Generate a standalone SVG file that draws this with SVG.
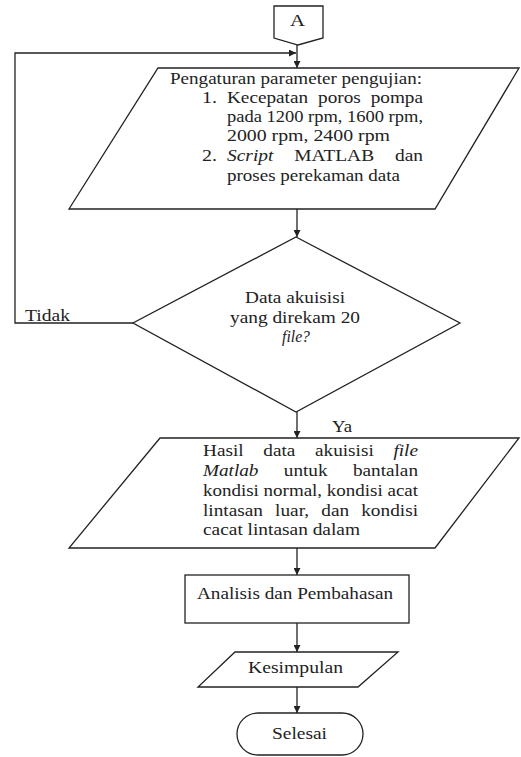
<svg xmlns="http://www.w3.org/2000/svg" width="521" height="757" viewBox="0 0 521 757">
<style>
.s{fill:#fff;stroke:#222;stroke-width:1.3}
.c{fill:none;stroke:#222;stroke-width:1.3}
text{font-family:"Liberation Serif","Times New Roman",serif;font-size:17px;fill:#222}
.i{font-style:italic}
</style>
<defs>
<marker id="ah" viewBox="0 0 10 10" refX="10" refY="5" markerWidth="7" markerHeight="7" markerUnits="userSpaceOnUse" orient="auto">
<path d="M0,0 L10,5 L0,10 z" fill="#222"/>
</marker>
</defs>
<rect width="521" height="757" fill="#fff"/>
<g id="connectors">
<polyline class="c" points="133,323 15,323 15,53 296,53" marker-end="url(#ah)"/>
<line class="c" x1="297" y1="45" x2="297" y2="68" marker-end="url(#ah)"/>
<line class="c" x1="297" y1="209" x2="297" y2="237" marker-end="url(#ah)"/>
<line class="c" x1="297" y1="412" x2="297" y2="438" marker-end="url(#ah)"/>
<line class="c" x1="297" y1="548" x2="297" y2="575" marker-end="url(#ah)"/>
<line class="c" x1="297" y1="623" x2="297" y2="652" marker-end="url(#ah)"/>
<line class="c" x1="297" y1="687" x2="297" y2="713" marker-end="url(#ah)"/>
<text x="25" y="321" textLength="45" lengthAdjust="spacingAndGlyphs">Tidak</text>
<text x="332" y="432" textLength="20" lengthAdjust="spacingAndGlyphs">Ya</text>
</g>
<g id="nodeA">
<polygon class="s" points="274,6 323,6 323,38 298,45 274,38"/>
<text x="290" y="26" textLength="15" lengthAdjust="spacingAndGlyphs">A</text>
</g>
<g id="node-pengaturan">
<polygon class="s" points="158,68 519,68 435,209 69,209"/>
<text x="170" y="84" textLength="252" lengthAdjust="spacingAndGlyphs">Pengaturan parameter pengujian:</text>
<text x="202" y="103" textLength="15" lengthAdjust="spacingAndGlyphs">1.</text>
<text x="227" y="103" word-spacing="4.6" textLength="196" lengthAdjust="spacingAndGlyphs">Kecepatan poros pompa</text>
<text x="227" y="122" textLength="196" lengthAdjust="spacingAndGlyphs">pada 1200 rpm, 1600 rpm,</text>
<text x="227" y="141" textLength="163" lengthAdjust="spacingAndGlyphs">2000 rpm, 2400 rpm</text>
<text x="202" y="161" textLength="15" lengthAdjust="spacingAndGlyphs">2.</text>
<text x="227" y="161" word-spacing="14" textLength="196" lengthAdjust="spacingAndGlyphs"><tspan class="i">Script</tspan> MATLAB dan</text>
<text x="227" y="181" textLength="173" lengthAdjust="spacingAndGlyphs">proses perekaman data</text>
</g>
<g id="node-decision">
<polygon class="s" points="296,237 460,323 296,412 133,323"/>
<text x="245" y="303" textLength="100" lengthAdjust="spacingAndGlyphs">Data akuisisi</text>
<text x="230" y="323" textLength="130" lengthAdjust="spacingAndGlyphs">yang direkam 20</text>
<text x="282" y="342" class="i" textLength="28" lengthAdjust="spacingAndGlyphs">file?</text>
</g>
<g id="node-hasil">
<polygon class="s" points="160,438 519,438 435,548 69,548"/>
<text x="203" y="456" word-spacing="13.2" textLength="215" lengthAdjust="spacingAndGlyphs">Hasil data akuisisi <tspan class="i">file</tspan></text>
<text x="203" y="476" word-spacing="18.2" textLength="215" lengthAdjust="spacingAndGlyphs"><tspan class="i">Matlab</tspan> untuk bantalan</text>
<text x="203" y="496" textLength="215" lengthAdjust="spacingAndGlyphs">kondisi normal, kondisi acat</text>
<text x="203" y="516" word-spacing="6.45" textLength="215" lengthAdjust="spacingAndGlyphs">lintasan luar, dan kondisi</text>
<text x="203" y="535" textLength="157" lengthAdjust="spacingAndGlyphs">cacat lintasan dalam</text>
</g>
<g id="node-analisis">
<rect class="s" x="185" y="575" width="224" height="48"/>
<text x="197" y="599" textLength="196" lengthAdjust="spacingAndGlyphs">Analisis dan Pembahasan</text>
</g>
<g id="node-kesimpulan">
<polygon class="s" points="235,652 398,652 358,687 198,687"/>
<text x="248" y="673" textLength="95" lengthAdjust="spacingAndGlyphs">Kesimpulan</text>
</g>
<g id="node-selesai">
<rect class="s" x="237" y="713" width="126" height="42" rx="21" ry="21"/>
<text x="272" y="739" textLength="55" lengthAdjust="spacingAndGlyphs">Selesai</text>
</g>
</svg>
